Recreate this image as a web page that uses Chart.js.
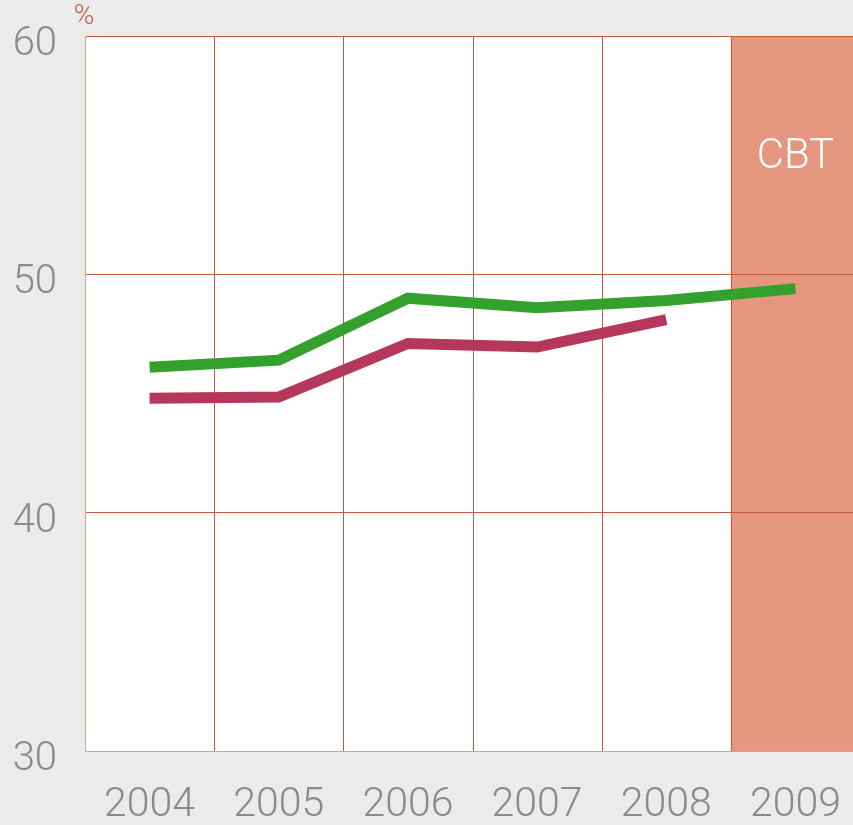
<!DOCTYPE html>
<html>
<head>
<meta charset="utf-8">
<script src="https://cdn.jsdelivr.net/npm/chart.js@4"></script>
<style>
html,body{margin:0;padding:0;background:#ebebeb;overflow:hidden;width:853px;height:825px;}
canvas{display:block;}
</style>
</head>
<body>
<canvas id="c" width="860" height="825"></canvas>
<script>
const years = ['2004','2005','2006','2007','2008','2009'];
const greenSeries = [46.1, 46.4, 49.0, 48.6, 48.9, 49.4];
const redSeries = [44.8, 44.85, 47.1, 46.95, 48.1, null];
const yTicks = [30, 40, 50, 60];
const unitLabel = '%';
const shadedCategory = '2009';
const shadedLabel = 'CBT';
const shadedLabelValue = 54.9;

const FONT = 'Roboto, "Liberation Sans", sans-serif';
const GRID = '#c45a44';

const decor = {
  id: 'decor',
  beforeDraw(chart) {
    const {ctx, chartArea: a, scales: {x, y}} = chart;
    ctx.save();
    ctx.fillStyle = '#ebebeb';
    ctx.fillRect(0, 0, chart.width, chart.height);
    ctx.fillStyle = '#ffffff';
    ctx.fillRect(a.left, a.top, a.right - a.left, a.bottom - a.top);
    const i = years.indexOf(shadedCategory);
    const c = x.getPixelForValue(i);
    const w = x.getPixelForValue(1) - x.getPixelForValue(0);
    const top = y.getPixelForValue(yTicks[yTicks.length - 1]);
    const bot = y.getPixelForValue(yTicks[0]);
    ctx.fillStyle = '#e4977e';
    ctx.fillRect(c - w / 2, top, w + 2, bot - top);
    ctx.restore();
  },
  beforeDatasetsDraw(chart) {
    const {ctx, chartArea: a, scales: {x, y}} = chart;
    ctx.save();
    // column separators from the category scale
    const w = x.getPixelForValue(1) - x.getPixelForValue(0);
    ctx.strokeStyle = GRID;
    ctx.lineWidth = 1;
    ctx.beginPath();
    for (let i = 1; i < years.length; i++) {
      const px = Math.round(x.getPixelForValue(i) - w / 2) + 0.5;
      ctx.moveTo(px, a.top);
      ctx.lineTo(px, a.bottom);
    }
    ctx.stroke();
    ctx.fillStyle = '#ffffff';
    ctx.font = '300 42px ' + FONT;
    ctx.textAlign = 'center';
    ctx.textBaseline = 'middle';
    ctx.fillText(shadedLabel, x.getPixelForValue(years.indexOf(shadedCategory)), y.getPixelForValue(shadedLabelValue));
    ctx.fillStyle = '#c25e48';
    ctx.font = '300 28px ' + FONT;
    ctx.textBaseline = 'middle';
    ctx.fillText(unitLabel, a.left - 1, a.top - 19);
    ctx.restore();
  }
};

new Chart(document.getElementById('c'), {
  type: 'line',
  data: {
    labels: years,
    datasets: [
      {
        data: greenSeries,
        borderColor: '#35a12d',
        borderWidth: 11,
        pointRadius: 0,
        tension: 0,
        borderCapStyle: 'butt',
        borderJoinStyle: 'miter',
        fill: false
      },
      {
        data: redSeries,
        borderColor: '#b5375c',
        borderWidth: 11,
        pointRadius: 0,
        tension: 0,
        borderCapStyle: 'butt',
        borderJoinStyle: 'miter',
        fill: false,
        spanGaps: false
      }
    ]
  },
  options: {
    responsive: false,
    animation: false,
    events: [],
    layout: {padding: {top: 36, right: 0, left: 0, bottom: 0}},
    plugins: {legend: {display: false}, tooltip: {enabled: false}},
    scales: {
      x: {
        type: 'category',
        offset: true,
        grid: {display: false, offset: true, drawTicks: false, tickLength: 0},
        border: {display: true, color: '#d9a092', width: 1},
        ticks: {
          color: '#8a8a8a',
          font: {family: FONT, size: 41, weight: '300'},
          padding: 30,
          maxRotation: 0,
          autoSkip: false
        },
        afterFit(s) { s.height = 74; s.paddingLeft = 0; s.paddingRight = 0; }
      },
      y: {
        min: 30,
        max: 60,
        afterBuildTicks(s) { s.ticks = yTicks.map(v => ({value: v})); },
        grid: {color: GRID, lineWidth: 1, drawTicks: false, tickLength: 0},
        border: {color: '#d9a092', width: 1},
        ticks: {
          color: '#8a8a8a',
          font: {family: FONT, size: 40, weight: '300', lineHeight: 0.45},
          padding: 28,
          callback: (v) => ['', String(v)]
        },
        afterFit(s) { s.width = 85; s.paddingTop = 0; s.paddingBottom = 0; }
      }
    }
  },
  plugins: [decor]
});
</script>
</body>
</html>
